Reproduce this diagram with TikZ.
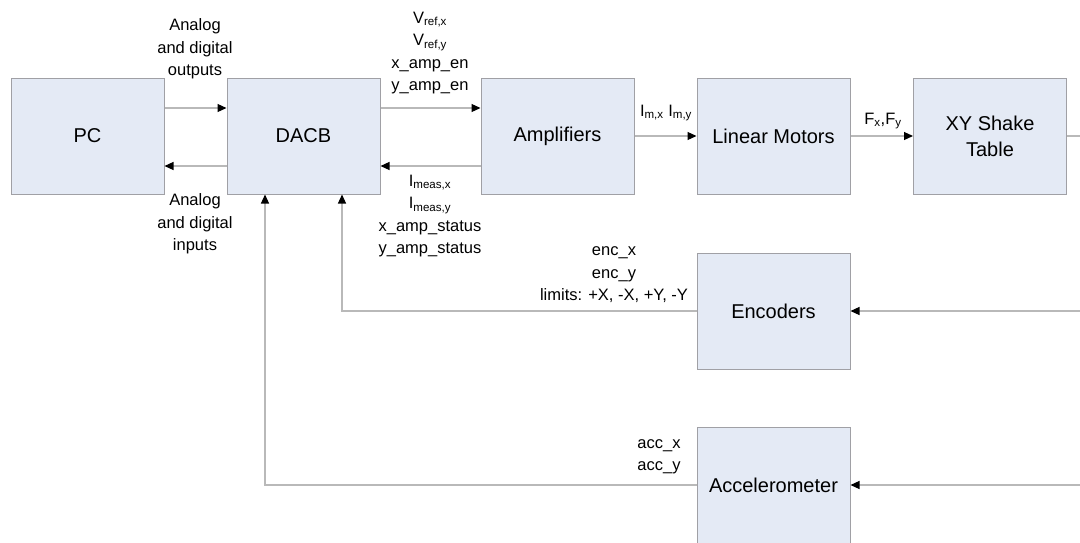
\documentclass[tikz,border=0pt]{standalone}
\usepackage{fontspec}
\setmainfont{Liberation Sans}
\usetikzlibrary{arrows.meta,calc}
\definecolor{boxfill}{RGB}{228,234,245}
\definecolor{boxline}{RGB}{160,160,165}
\definecolor{wire}{RGB}{185,185,185}
\tikzset{
  blk/.style={draw=boxline, fill=boxfill, line width=1pt, minimum width=153pt, minimum height=116pt, inner sep=0pt, align=center, font=\fontsize{20}{26}\selectfont},
  lbl/.style={align=center, inner sep=0pt, font=\fontsize{16.5}{22.5}\selectfont},
  arr/.style={draw=wire, line width=1.2pt, -{Triangle[length=9pt,width=8pt,color=black]}},
  wireln/.style={draw=wire, line width=1.2pt}
}
\begin{document}
\begin{tikzpicture}[x=1pt,y=-1pt]
\useasboundingbox (0,0) rectangle (1080,542);
\node[blk] (PC) at (87.5,136) {PC};
\node[blk] (DACB) at (303.5,136) {DACB};
\node[blk] (AMP) at (557.5,136) {Amplifiers};
\node[blk] (LM) at (773.5,136) {Linear Motors};
\node[blk] (XY) at (990,136) {XY Shake\\Table};
\node[blk] (ENC) at (773.5,311) {Encoders};
\node[blk] (ACC) at (773.5,485) {Accelerometer};
\coordinate (R0) at (1080,136);
\coordinate (R1) at (1080,311);
\coordinate (R2) at (1080,485);
% top row
\draw[arr] ([yshift=28pt]PC.east) -- ([yshift=28pt]DACB.west);
\draw[arr] ([yshift=-30pt]DACB.west) -- ([yshift=-30pt]PC.east);
\draw[arr] ([yshift=28pt]DACB.east) -- ([yshift=28pt]AMP.west);
\draw[arr] ([yshift=-30pt]AMP.west) -- ([yshift=-30pt]DACB.east);
\draw[arr] (AMP.east) -- (LM.west);
\draw[arr] (LM.east) -- (XY.west);
\draw[wireln] (XY.east) -- (R0);
% feedback
\draw[arr] (R1) -- (ENC.east);
\draw[arr] (R2) -- (ACC.east);
\draw[arr] (ENC.west) -| ([xshift=38.5pt]DACB.south);
\draw[arr] (ACC.west) -| ([xshift=-38.5pt]DACB.south);
% labels
\node[lbl] (lout) at (195,49) {Analog\\and digital\\outputs};
\node[lbl] (lin) at (195,224) {Analog\\and digital\\inputs};
\node[lbl] (lref) at (430,53) {V\textsubscript{ref,x}\\V\textsubscript{ref,y}\\x\_amp\_en\\y\_amp\_en};
\node[lbl] (lmeas) at (430,216) {I\textsubscript{meas,x}\\I\textsubscript{meas,y}\\x\_amp\_status\\y\_amp\_status};
\node[lbl] (lim) at (666,113) {I\textsubscript{m,x} I\textsubscript{m,y}};
\node[lbl] (lf) at (883,121) {F\textsubscript{x},F\textsubscript{y}};
\node[lbl] (lenc) at (614,275) {enc\_x\\enc\_y\\limits: +X, -X, +Y, -Y};
\node[lbl] (lacc) at (659,457) {acc\_x\\acc\_y};
\end{tikzpicture}
\end{document}
